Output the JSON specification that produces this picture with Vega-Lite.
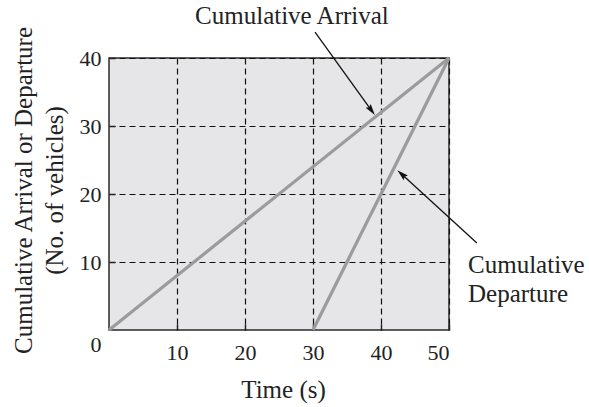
{
  "$schema": "https://vega.github.io/schema/vega-lite/v6.json",
  "width": 340,
  "height": 272,
  "autosize": {"type": "none"},
  "padding": {"left": 109, "top": 58, "right": 140, "bottom": 77},
  "background": "white",
  "config": {
    "view": {"fill": "#e6e6e8", "stroke": "#2a2a2a", "strokeWidth": 1.5},
    "font": "Liberation Serif",
    "axis": {
      "labelFont": "Liberation Serif",
      "titleFont": "Liberation Serif",
      "labelFontSize": 22,
      "titleFontSize": 25,
      "labelColor": "#222",
      "titleColor": "#222",
      "titleFontWeight": "normal",
      "domain": false,
      "grid": true,
      "gridColor": "#111",
      "gridDash": [6, 4],
      "gridWidth": 1.2,
      "gridOpacity": 1,
      "tickColor": "#222",
      "tickWidth": 1.5,
      "tickSize": -6
    }
  },
  "datasets": {
    "curves": [
      {"series": "Cumulative Arrival", "t": 0, "n": 0},
      {"series": "Cumulative Arrival", "t": 50, "n": 40},
      {"series": "Cumulative Departure", "t": 30, "n": 0},
      {"series": "Cumulative Departure", "t": 50, "n": 40}
    ],
    "arrows": [
      {"name": "arrival", "x": 30.3, "y": 43.8, "x2": 38.67, "y2": 32.2, "tx": 39.1, "ty": 31.6},
      {"name": "departure", "x": 54.1, "y": 12.8, "x2": 42.94, "y2": 23.0, "tx": 42.4, "ty": 23.5}
    ],
    "arrivalLabel": [
      {"label": "Cumulative Arrival", "x": 26.9, "y": 45.0}
    ],
    "departureLabel": [
      {"label": "Cumulative", "x": 52.8, "y": 8.4},
      {"label": "Departure", "x": 52.8, "y": 4.1}
    ],
    "origin": [{"label": "0", "x": 0, "y": 0}]
  },
  "layer": [
    {
      "data": {"name": "curves"},
      "mark": {"type": "line", "color": "#9b9b9b", "strokeWidth": 3.2, "clip": false},
      "encoding": {
        "x": {
          "field": "t", "type": "quantitative",
          "scale": {"domain": [0, 50], "nice": false, "zero": false},
          "axis": {
            "values": [10, 20, 30, 40, 50],
            "title": "Time (s)",
            "labelPadding": 35,
            "labelBaseline": "alphabetic",
            "titleBaseline": "alphabetic",
            "titleY": 67,
            "titleX": 174
          }
        },
        "y": {
          "field": "n", "type": "quantitative",
          "scale": {"domain": [0, 40], "nice": false, "zero": false},
          "axis": {
            "values": [10, 20, 30, 40],
            "title": ["Cumulative Arrival or Departure", "(No. of vehicles)"],
            "labelPadding": 14,
            "labelBaseline": "middle",
            "titleX": -98,
            "titleY": 132,
            "titleBaseline": "top",
            "titleAngle": -90,
            "titleAlign": "center",
            "titleLineHeight": 31
          }
        },
        "detail": {"field": "series"}
      }
    },
    {
      "data": {"name": "arrows"},
      "mark": {"type": "rule", "color": "#111", "strokeWidth": 1.3, "clip": false},
      "encoding": {
        "x": {"field": "x", "type": "quantitative"},
        "y": {"field": "y", "type": "quantitative"},
        "x2": {"field": "x2"},
        "y2": {"field": "y2"}
      }
    },
    {
      "data": {"name": "arrows"},
      "transform": [{"filter": "datum.name === 'arrival'"}],
      "mark": {"type": "point", "shape": "M0,0L0.55,2L0,1.7L-0.55,2Z", "filled": true, "color": "#111", "opacity": 1, "size": 130, "angle": 144, "clip": false},
      "encoding": {
        "x": {"field": "tx", "type": "quantitative"},
        "y": {"field": "ty", "type": "quantitative"}
      }
    },
    {
      "data": {"name": "arrows"},
      "transform": [{"filter": "datum.name === 'departure'"}],
      "mark": {"type": "point", "shape": "M0,0L0.55,2L0,1.7L-0.55,2Z", "filled": true, "color": "#111", "opacity": 1, "size": 130, "angle": 312, "clip": false},
      "encoding": {
        "x": {"field": "tx", "type": "quantitative"},
        "y": {"field": "ty", "type": "quantitative"}
      }
    },
    {
      "data": {"name": "arrivalLabel"},
      "mark": {"type": "text", "font": "Liberation Serif", "fontSize": 25, "color": "#222", "baseline": "alphabetic", "align": "center", "clip": false},
      "encoding": {
        "x": {"field": "x", "type": "quantitative"},
        "y": {"field": "y", "type": "quantitative"},
        "text": {"field": "label"}
      }
    },
    {
      "data": {"name": "departureLabel"},
      "mark": {"type": "text", "font": "Liberation Serif", "fontSize": 25, "color": "#222", "baseline": "alphabetic", "align": "left", "clip": false},
      "encoding": {
        "x": {"field": "x", "type": "quantitative"},
        "y": {"field": "y", "type": "quantitative"},
        "text": {"field": "label"}
      }
    },
    {
      "data": {"name": "origin"},
      "mark": {"type": "text", "font": "Liberation Serif", "fontSize": 22, "color": "#222", "baseline": "middle", "align": "center", "dx": -13, "dy": 15, "clip": false},
      "encoding": {
        "x": {"field": "x", "type": "quantitative"},
        "y": {"field": "y", "type": "quantitative"},
        "text": {"field": "label"}
      }
    }
  ]
}
